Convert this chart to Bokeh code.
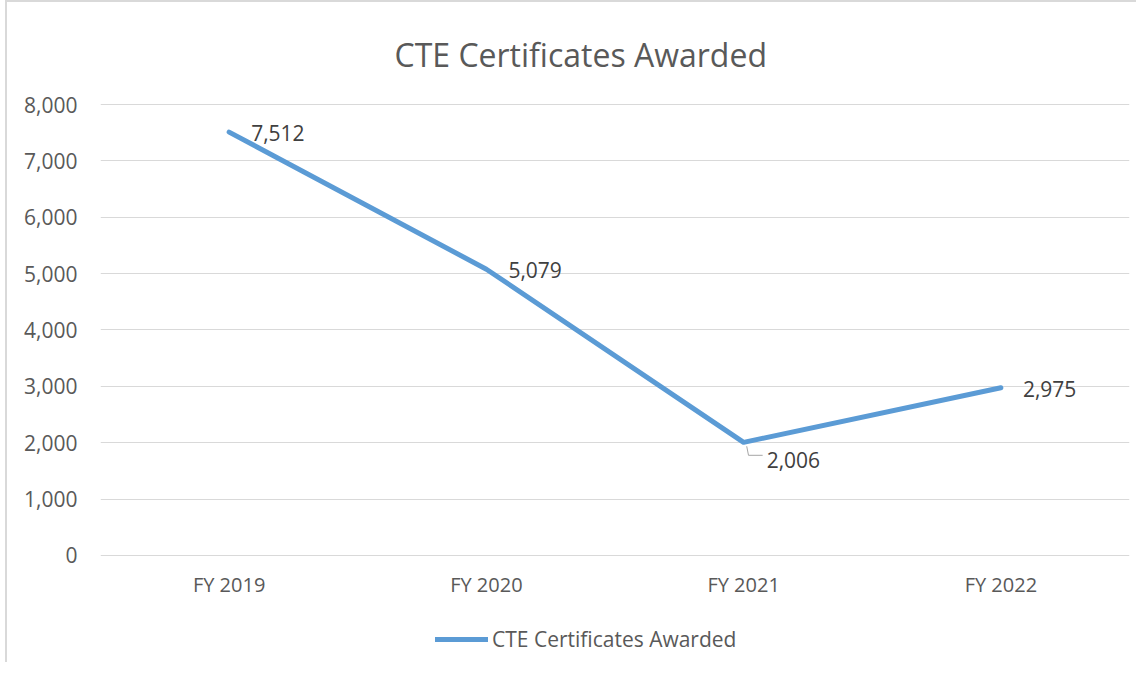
from bokeh.plotting import figure
from bokeh.models import ColumnDataSource, NumeralTickFormatter, Legend, LegendItem, FixedTicker
from bokeh.core.properties import value
from bokeh.embed import file_html
from bokeh.resources import INLINE

categories = ["FY 2019", "FY 2020", "FY 2021", "FY 2022"]
certificates = [7512, 5079, 2006, 2975]
label_texts = ["7,512", "5,079", "2,006", "2,975"]
y_ticks = [0, 1000, 2000, 3000, 4000, 5000, 6000, 7000, 8000]

FONT = "Open Sans"
GREY = "#595959"

# frame reaches the bottom of the figure; the value axis is kept to 0..8000,
# the category axis sits at y = 0 and the legend lies below it inside the frame
p = figure(x_range=categories, y_range=(-1866, 8020), width=1131, height=662,
           output_backend="svg", toolbar_location=None,
           min_border_left=93, min_border_right=9, min_border_top=96, min_border_bottom=4)
p.styles = {"margin-left": "5px", "margin-top": "0px",
            "border-left": "2px solid #d9d9d9", "border-top": "2px solid #d9d9d9"}
p.outline_line_color = None
p.x_range.range_padding = 0

p.title.text = "CTE Certificates Awarded"
p.title.text_font = FONT
p.title.text_font_size = "32px"
p.title.text_font_style = "normal"
p.title.text_color = GREY
p.title.align = "left"
p.title.offset = 294
p.title.standoff = 56

p.xgrid.grid_line_color = None
p.ygrid.grid_line_color = "#d9d9d9"
p.ygrid.grid_line_width = 1
p.ygrid.bounds = (0, 8000)

p.yaxis.ticker = FixedTicker(ticks=y_ticks)
p.yaxis.formatter = NumeralTickFormatter(format="0,0")
p.xaxis.fixed_location = 0
for ax in (p.xaxis[0], p.yaxis[0]):
    ax.axis_line_color = None
    ax.major_tick_line_color = None
    ax.minor_tick_line_color = None
    ax.major_label_text_font = FONT
    ax.major_label_text_color = GREY
p.yaxis.major_label_text_font_size = "21px"
p.xaxis.major_label_text_font_size = "20px"
p.yaxis.major_label_standoff = 17
p.xaxis.major_label_standoff = 10

src = ColumnDataSource(dict(x=categories, y=certificates, t=label_texts))
line = p.line("x", "y", source=src, line_color="#5b9bd5", line_width=5, line_cap="round", line_join="round")

# data labels
idx_up = [0, 1, 3]
src_lab = ColumnDataSource(dict(x=[categories[i] for i in idx_up], y=[certificates[i] for i in idx_up],
                                t=[label_texts[i] for i in idx_up]))
p.text("x", "y", text="t", source=src_lab, x_offset=22, y_offset=1, text_baseline="middle",
       text_font=value(FONT), text_font_size="21px", text_color="#404040")
p.text(x=[categories[2]], y=[certificates[2]], text=[label_texts[2]], x_offset=23, y_offset=18,
       text_baseline="middle", text_font=value(FONT), text_font_size="21px", text_color="#404040")
# leader line for 2,006 label (numeric coords on the factor range: FY 2021 centre = 2.5)
v = certificates[2]
p.line(x=[2.512, 2.519, 2.574], y=[v - 70, v - 230, v - 230], line_color="#a6a6a6", line_width=1)

legend = Legend(items=[LegendItem(label="CTE Certificates Awarded", renderers=[line])],
                location=(335, 7), orientation="horizontal",
                glyph_width=53, glyph_height=20, label_standoff=4,
                padding=0, margin=0,
                border_line_color=None, background_fill_alpha=0,
                label_text_font=FONT, label_text_font_size="21px", label_text_color=GREY)
p.add_layout(legend, "center")

open("out.html", "w").write(file_html(p, INLINE))
